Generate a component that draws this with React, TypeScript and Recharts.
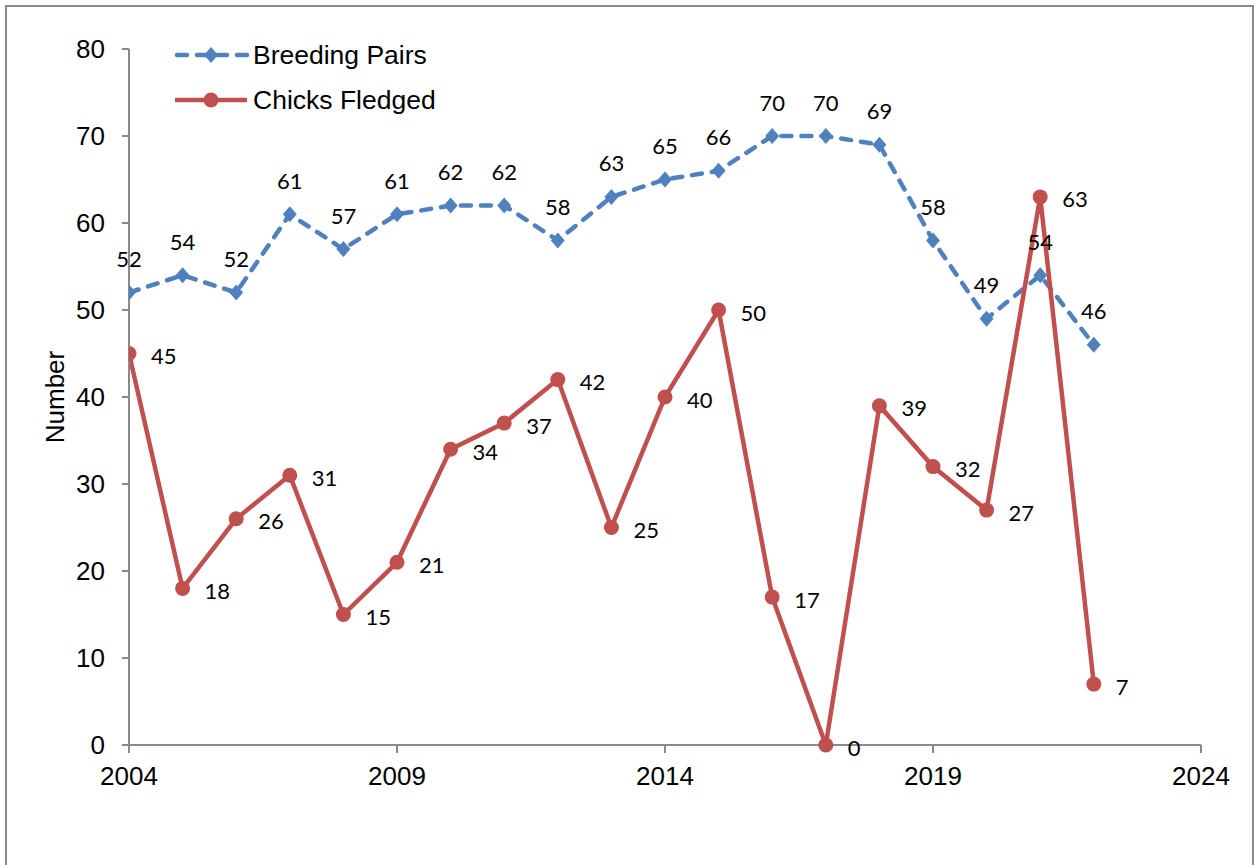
import React from 'react';
import { LineChart, Line, XAxis, YAxis, Legend, LabelList } from 'recharts';

const years = [2004, 2005, 2006, 2007, 2008, 2009, 2010, 2011, 2012, 2013, 2014, 2015, 2016, 2017, 2018, 2019, 2020, 2021, 2022];
const breedingPairs = [52, 54, 52, 61, 57, 61, 62, 62, 58, 63, 65, 66, 70, 70, 69, 58, 49, 54, 46];
const chicksFledged = [45, 18, 26, 31, 15, 21, 34, 37, 42, 25, 40, 50, 17, 0, 39, 32, 27, 63, 7];
const xTicks = [2004, 2009, 2014, 2019, 2024];
const yTicks = [0, 10, 20, 30, 40, 50, 60, 70, 80];
const seriesNames = ['Breeding Pairs', 'Chicks Fledged'];

const data = years.map((y, i) => ({ year: y, breeding: breedingPairs[i], chicks: chicksFledged[i] }));

const BLUE = '#4F81BD';
const RED = '#C0504D';
const AXIS = '#8a8a8a';
const AXIS_FONT = '"Liberation Sans", Arial, sans-serif';
const LABEL_FONT = 'Lato, "Open Sans", sans-serif';
const AXIS_SIZE = 26;

const Diamond = (props: any) => {
  const { cx, cy } = props;
  if (cx == null || cy == null) return null;
  return <path d={`M${cx},${cy - 8} L${cx + 7},${cy} L${cx},${cy + 8} L${cx - 7},${cy} Z`} fill={BLUE} />;
};

const Circle = (props: any) => {
  const { cx, cy } = props;
  if (cx == null || cy == null) return null;
  return <circle cx={cx} cy={cy} r={7.5} fill={RED} />;
};

const BlueLabel = (props: any) => {
  const { x, y, value } = props;
  return (
    <text x={x} y={y - 34} textAnchor="middle" dominantBaseline="central" fontFamily={LABEL_FONT} fontSize={22} fill="#000">
      {value}
    </text>
  );
};

const RedLabel = (props: any) => {
  const { x, y, value } = props;
  return (
    <text x={x + 22} y={y + 2} textAnchor="start" dominantBaseline="central" fontFamily={LABEL_FONT} fontSize={22} fill="#000">
      {value}
    </text>
  );
};

const LegendContent = () => (
  <svg width={300} height={92} style={{ display: 'block' }}>
    <line x1={7} y1={23} x2={77} y2={23} stroke={BLUE} strokeWidth={4.5} strokeDasharray="10 10" strokeLinecap="round" />
    <path d={`M41,15 L48,23 L41,31 L34,23 Z`} fill={BLUE} />
    <text x={83} y={23} dominantBaseline="central" fontFamily={AXIS_FONT} fontSize={26.5} fill="#000">{seriesNames[0]}</text>
    <line x1={5} y1={68} x2={77} y2={68} stroke={RED} strokeWidth={4.5} />
    <circle cx={41} cy={68} r={7.5} fill={RED} />
    <text x={83} y={68} dominantBaseline="central" fontFamily={AXIS_FONT} fontSize={26.5} fill="#000">{seriesNames[1]}</text>
  </svg>
);

const YLabel = (props: any) => {
  const vb = props.viewBox || {};
  const cy = vb.y + vb.height / 2;
  const cx = 55;
  return (
    <text x={cx} y={cy} transform={`rotate(-90, ${cx}, ${cy})`} textAnchor="middle" dominantBaseline="central" fontFamily={AXIS_FONT} fontSize={AXIS_SIZE} fill="#000">
      Number
    </text>
  );
};

export default function App() {
  return (
    <div style={{ position: 'absolute', left: 0, top: 0, width: 1254, height: 865, background: '#fff', overflow: 'hidden' }}>
      <div style={{ position: 'absolute', left: 5, top: 5, width: 1249, height: 900, border: `2px solid ${AXIS}`, boxSizing: 'border-box' }} />
      <LineChart width={1254} height={865} data={data} margin={{ top: 49, right: 53, bottom: 80, left: 0 }}>
        <XAxis
          dataKey="year"
          type="number"
          domain={[2004, 2024]}
          ticks={xTicks}
          allowDataOverflow
          height={40}
          tickSize={8}
          tickMargin={14}
          stroke={AXIS}
          strokeWidth={2}
          tick={{ fontFamily: AXIS_FONT, fontSize: AXIS_SIZE, fill: '#000' }}
          tickLine={{ stroke: AXIS, strokeWidth: 2 }}
        />
        <YAxis
          type="number"
          domain={[0, 80]}
          ticks={yTicks}
          width={129}
          tickSize={7}
          tickMargin={17}
          stroke={AXIS}
          strokeWidth={2}
          tick={{ fontFamily: AXIS_FONT, fontSize: AXIS_SIZE, fill: '#000' }}
          tickLine={{ stroke: AXIS, strokeWidth: 2 }}
          label={<YLabel />}
        />
        <Legend
          layout="horizontal"
          verticalAlign="middle"
          align="center"
          content={<LegendContent />}
          wrapperStyle={{ position: 'absolute', left: 170, top: 32, width: 300, height: 92 }}
        />
        <Line
          dataKey="breeding"
          name={seriesNames[0]}
          stroke={BLUE}
          strokeWidth={4.5}
          strokeDasharray="10 10"
          strokeLinecap="round"
          dot={<Diamond />}
          activeDot={false}
          isAnimationActive={false}
        />
        <Line
          dataKey="chicks"
          name={seriesNames[1]}
          stroke={RED}
          strokeWidth={4.5}
          dot={<Circle />}
          activeDot={false}
          isAnimationActive={false}
        />
        <Line dataKey="breeding" stroke="none" dot={false} activeDot={false} legendType="none" isAnimationActive={false}>
          <LabelList dataKey="breeding" content={<BlueLabel />} />
        </Line>
        <Line dataKey="chicks" stroke="none" dot={false} activeDot={false} legendType="none" isAnimationActive={false}>
          <LabelList dataKey="chicks" content={<RedLabel />} />
        </Line>
      </LineChart>
    </div>
  );
}
